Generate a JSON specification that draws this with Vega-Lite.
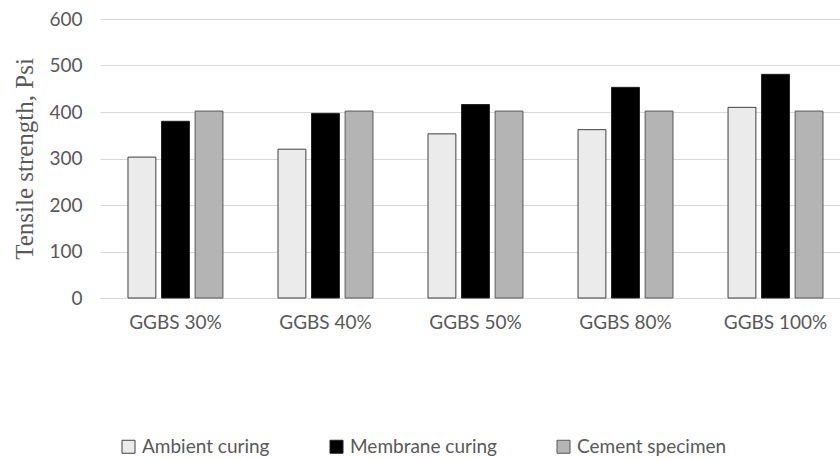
{
  "$schema": "https://vega.github.io/schema/vega-lite/v6.json",
  "width": 740,
  "height": 279,
  "autosize": "none",
  "padding": {"left": 100, "top": 19, "right": 0, "bottom": 162},
  "background": "white",
  "data": {
    "values": [
      {"Mix": "GGBS 30%", "Curing": "Ambient curing", "Strength": 303},
      {"Mix": "GGBS 30%", "Curing": "Membrane curing", "Strength": 380},
      {"Mix": "GGBS 30%", "Curing": "Cement specimen", "Strength": 402},
      {"Mix": "GGBS 40%", "Curing": "Ambient curing", "Strength": 320},
      {"Mix": "GGBS 40%", "Curing": "Membrane curing", "Strength": 397},
      {"Mix": "GGBS 40%", "Curing": "Cement specimen", "Strength": 402},
      {"Mix": "GGBS 50%", "Curing": "Ambient curing", "Strength": 353},
      {"Mix": "GGBS 50%", "Curing": "Membrane curing", "Strength": 416},
      {"Mix": "GGBS 50%", "Curing": "Cement specimen", "Strength": 402},
      {"Mix": "GGBS 80%", "Curing": "Ambient curing", "Strength": 362},
      {"Mix": "GGBS 80%", "Curing": "Membrane curing", "Strength": 453},
      {"Mix": "GGBS 80%", "Curing": "Cement specimen", "Strength": 402},
      {"Mix": "GGBS 100%", "Curing": "Ambient curing", "Strength": 410},
      {"Mix": "GGBS 100%", "Curing": "Membrane curing", "Strength": 481},
      {"Mix": "GGBS 100%", "Curing": "Cement specimen", "Strength": 402}
    ]
  },
  "mark": {"type": "bar"},
  "encoding": {
    "x": {
      "field": "Mix",
      "type": "nominal",
      "sort": ["GGBS 30%", "GGBS 40%", "GGBS 50%", "GGBS 80%", "GGBS 100%"],
      "scale": {"paddingInner": 0.367, "paddingOuter": 0.15, "align": 0.622},
      "axis": {
        "title": null,
        "labelAngle": 0,
        "labelFont": "Lato",
        "labelFontSize": 19,
        "labelColor": "#595959",
        "labelPadding": 15,
        "ticks": false,
        "tickSize": 0,
        "domainColor": "#d9d9d9",
        "domainWidth": 1,
        "grid": false
      }
    },
    "xOffset": {
      "field": "Curing",
      "type": "nominal",
      "sort": ["Ambient curing", "Membrane curing", "Cement specimen"],
      "scale": {"paddingInner": 0.17, "paddingOuter": 0}
    },
    "y": {
      "field": "Strength",
      "type": "quantitative",
      "scale": {"domain": [0, 600]},
      "axis": {
        "title": "Tensile strength, Psi",
        "titleFont": "Liberation Serif",
        "titleFontSize": 25,
        "titleFontWeight": "normal",
        "titleColor": "#595959",
        "titleX": -63,
        "titleY": 139.5,
        "titleAngle": -90,
        "titleBaseline": "bottom",
        "titleAlign": "center",
        "values": [0, 100, 200, 300, 400, 500, 600],
        "labelFont": "Lato",
        "labelFontSize": 19,
        "labelColor": "#595959",
        "labelPadding": 18,
        "ticks": false,
        "tickSize": 0,
        "domain": false,
        "grid": true,
        "gridColor": "#d9d9d9",
        "gridWidth": 1
      }
    },
    "fill": {
      "field": "Curing",
      "type": "nominal",
      "sort": ["Ambient curing", "Membrane curing", "Cement specimen"],
      "scale": {
        "domain": ["Ambient curing", "Membrane curing", "Cement specimen"],
        "range": ["#ebebeb", "#000000", "#b4b4b4"]
      },
      "legend": {
        "title": null,
        "orient": "none",
        "direction": "horizontal",
        "legendX": 19,
        "legendY": 418,
        "symbolType": "square",
        "symbolSize": 169,
        "labelFont": "Lato",
        "labelFontSize": 19,
        "labelColor": "#595959",
        "labelOffset": 4,
        "columnPadding": 57,
        "labelLimit": 300
      }
    },
    "stroke": {
      "field": "Curing",
      "type": "nominal",
      "sort": ["Ambient curing", "Membrane curing", "Cement specimen"],
      "scale": {
        "domain": ["Ambient curing", "Membrane curing", "Cement specimen"],
        "range": ["#404040", "#202020", "#595959"]
      },
      "legend": {
        "title": null,
        "orient": "none",
        "direction": "horizontal",
        "legendX": 19,
        "legendY": 418,
        "symbolType": "square",
        "symbolSize": 169,
        "labelFont": "Lato",
        "labelFontSize": 19,
        "labelColor": "#595959",
        "labelOffset": 4,
        "columnPadding": 57,
        "labelLimit": 300
      }
    },
    "strokeWidth": {
      "field": "Curing",
      "type": "nominal",
      "scale": {
        "domain": ["Ambient curing", "Membrane curing", "Cement specimen"],
        "range": [1, 1, 2]
      },
      "legend": null
    }
  },
  "config": {
    "view": {"stroke": null},
    "font": "Lato"
  }
}
